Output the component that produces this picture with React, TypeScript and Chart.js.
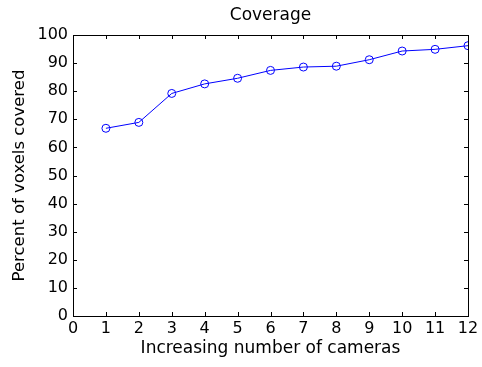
import React, { useEffect, useRef } from "react";
import { Chart, registerables } from "chart.js";

Chart.register(...registerables);

const cameras = [1, 2, 3, 4, 5, 6, 7, 8, 9, 10, 11, 12];
const coverage = [66.8, 68.9, 79.2, 82.6, 84.6, 87.4, 88.6, 88.9, 91.2, 94.3, 94.9, 96.2];
const xTicks = [0, 1, 2, 3, 4, 5, 6, 7, 8, 9, 10, 11, 12];
const yTicks = [0, 10, 20, 30, 40, 50, 60, 70, 80, 90, 100];

const FONT = "'DejaVu Sans', 'Liberation Sans', Arial, sans-serif";

const inwardTicks = {
  id: "inwardTicks",
  afterDatasetsDraw(chart: any) {
    const { ctx, chartArea, scales } = chart;
    const { left, right, top, bottom } = chartArea;
    const len = 4;
    ctx.save();
    ctx.strokeStyle = "#000";
    ctx.lineWidth = 1;
    ctx.beginPath();
    xTicks.forEach((v) => {
      const x = Math.round(scales.x.getPixelForValue(v)) + 0.5;
      ctx.moveTo(x, bottom);
      ctx.lineTo(x, bottom - len);
      ctx.moveTo(x, top);
      ctx.lineTo(x, top + len);
    });
    yTicks.forEach((v) => {
      const y = Math.round(scales.y.getPixelForValue(v)) + 0.5;
      ctx.moveTo(left, y);
      ctx.lineTo(left + len, y);
      ctx.moveTo(right, y);
      ctx.lineTo(right - len, y);
    });
    ctx.stroke();
    ctx.strokeRect(Math.round(left) + 0.5, Math.round(top) + 0.5, Math.round(right - left), Math.round(bottom - top));
    ctx.restore();
  },
};

export default function App() {
  const ref = useRef<HTMLCanvasElement>(null);
  useEffect(() => {
    document.body.style.margin = "0";
    const chart = new Chart(ref.current as HTMLCanvasElement, {
      type: "line",
      data: {
        datasets: [
          {
            data: cameras.map((c, i) => ({ x: c, y: coverage[i] })),
            borderColor: "#0000ff",
            borderWidth: 1,
            pointStyle: "circle",
            pointRadius: 4,
            pointBorderColor: "#0000ff",
            pointBackgroundColor: "rgba(0,0,0,0)",
            pointBorderWidth: 1,
            tension: 0,
          },
        ],
      },
      plugins: [inwardTicks],
      options: {
        responsive: false,
        animation: false,
        layout: { padding: { left: 0, right: 14, top: 0, bottom: 0 } },
        plugins: {
          legend: { display: false },
          tooltip: { enabled: false },
          title: { display: false },
        },
        scales: {
          top: {
            type: "linear",
            position: "top",
            min: 0,
            max: 12,
            afterFit(scale: any) {
              scale.height = 35;
            },
            grid: { display: false, drawTicks: false },
            border: { display: false },
            ticks: { display: false },
            title: {
              display: true,
              text: "Coverage",
              color: "#000",
              font: { family: FONT, size: 17, lineHeight: 1.2 },
              padding: { top: 5, bottom: 0 },
            },
          },
          x: {
            type: "linear",
            min: 0,
            max: 12,
            afterFit(scale: any) {
              scale.height = 51;
            },
            afterBuildTicks(scale: any) {
              scale.ticks = xTicks.map((v) => ({ value: v }));
            },
            grid: { display: false, drawTicks: false },
            border: { display: false },
            ticks: {
              color: "#000",
              font: { family: FONT, size: 16 },
              padding: 3,
              maxRotation: 0,
              autoSkip: false,
            },
            title: {
              display: true,
              text: "Increasing number of cameras",
              color: "#000",
              font: { family: FONT, size: 17 },
              padding: { top: 0, bottom: 8 },
            },
          },
          y: {
            type: "linear",
            min: 0,
            max: 100,
            afterFit(scale: any) {
              scale.width = 73;
            },
            afterBuildTicks(scale: any) {
              scale.ticks = yTicks.map((v) => ({ value: v }));
            },
            grid: { display: false, drawTicks: false },
            border: { display: false },
            ticks: {
              color: "#000",
              font: { family: FONT, size: 16 },
              padding: 5,
              autoSkip: false,
            },
            title: {
              display: true,
              text: "Percent of voxels covered",
              color: "#000",
              font: { family: FONT, size: 16.5 },
              padding: { top: 10, bottom: 0 },
            },
          },
        },
      },
    } as any);
    return () => chart.destroy();
  }, []);
  return <canvas ref={ref} width={482} height={367} style={{ display: "block" }} />;
}
